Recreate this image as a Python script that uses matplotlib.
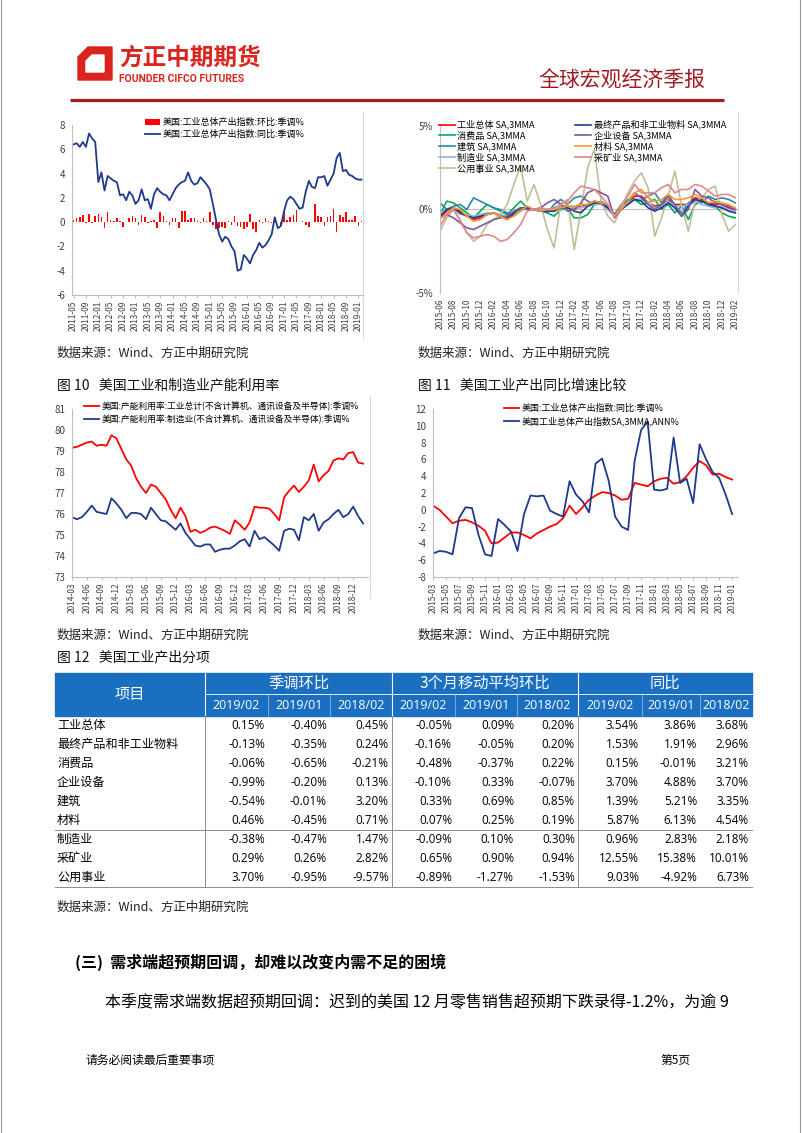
import numpy as np
import pandas as pd
import matplotlib.pyplot as plt
from matplotlib.patches import Rectangle, Polygon

plt.rcParams['font.family'] = ['Noto Sans CJK SC', 'DejaVu Sans']
plt.rcParams['axes.unicode_minus'] = False

# ---- chart 1: US industrial production, 2011-05 .. 2019-02
ip_mom = [0.2, 0.3, 0.4, 0.6, -0.1, 0.7, -0.1, 0.5, 0.7, 0.4, -0.5, 0.8, 0.2, 0.1, 0.3, 0.1,
          -0.4, 0.0, 0.3, 0.5, 0.3, -0.2, 0.6, 0.4, -0.1, 0.1, 0.2, -0.5, 0.8, 0.5, 0.1, -0.2,
          0.3, 0.3, -0.5, 0.9, 0.9, 0.2, 0.3, 0.3, 0.1, -0.1, 0.3, 0.1, 0.8, -0.2, -0.6, -0.5,
          -0.4, -0.5, 0.1, -0.2, 0.5, -0.3, -0.4, -0.6, -0.4, 0.7, -0.6, -0.8, 0.2, -0.1, 0.3, 0.1,
          -0.1, 0.1, 0.0, -0.3, 0.9, 0.2, 0.4, 0.6, 1.0, 0.0, 0.1, -0.2, -0.4, 0.0, 1.5, 0.5,
          0.4, -0.3, 0.4, 0.5, 1.1, -0.8, 0.6, 0.4, 0.8, 0.2, 0.2, 0.5, -0.3, 0.1]
ip_yoy = [6.4, 6.5, 6.2, 6.6, 6.2, 7.3, 6.9, 6.6, 3.3, 4.1, 2.6, 3.8, 3.6, 3.4, 3.3, 2.2,
          2.3, 1.8, 2.5, 2.2, 1.5, 1.8, 2.7, 1.8, 1.9, 1.1, 2.3, 2.8, 2.5, 2.3, 2.2, 1.8,
          2.3, 2.8, 3.1, 3.3, 3.4, 4.1, 3.4, 3.1, 3.2, 3.7, 3.4, 3.1, 2.7, 1.5, 0.2, -1.0,
          -1.6, -1.2, -1.4, -2.0, -2.4, -4.0, -3.9, -2.7, -3.0, -3.4, -2.7, -2.3, -1.7, -2.1, -1.9, -1.5,
          -1.0, 0.4, -0.5, -0.3, 0.9, 1.8, 2.1, 1.9, 1.5, 1.1, 1.2, 2.5, 3.4, 2.9, 2.8, 3.7,
          3.7, 3.8, 3.0, 3.5, 4.0, 5.3, 5.7, 4.2, 4.3, 3.9, 3.8, 3.6, 3.5, 3.5]
months1 = pd.period_range('2011-05', periods=len(ip_yoy), freq='M').strftime('%Y-%m').tolist()

# ---- chart 2: sub-sector 3MMA, 2015-06 .. 2019-02 (%)
sec_names = ['工业总体 SA,3MMA', '消费品 SA,3MMA', '建筑 SA,3MMA', '制造业 SA,3MMA', '公用事业 SA,3MMA',
             '最终产品和非工业物料 SA,3MMA', '企业设备 SA,3MMA', '材料 SA,3MMA', '采矿业 SA,3MMA']
sec_total = [-0.5, -0.1, 0.1, -0.1, -0.4, -0.6, -0.5, -0.3, -0.2, -0.4, -0.6, -0.3, 0.0, 0.1, 0.0, -0.1,
             0.0, -0.1, 0.2, 0.2, 0.0, 0.2, 0.3, 0.5, 0.4, 0.2, -0.3, 0.0, 0.4, 0.8, 0.8, 0.4,
             0.2, 0.3, 0.6, 0.3, 0.3, 0.3, 0.7, 0.6, 0.4, 0.3, 0.3, 0.1, 0.0]
sec_consumer = [-0.3, 0.5, 0.4, 0.1, -0.2, -0.5, -0.1, 0.3, 0.1, -0.1, -0.3, 0.1, 0.5, 0.1, 0.0, -0.1,
                -0.2, -0.4, 0.0, 0.1, -0.5, -0.5, -0.3, 0.3, 0.4, 0.0, -0.3, 0.2, 0.6, 0.6, 0.3, 0.4,
                0.6, 0.0, 0.3, -0.2, 0.2, -0.6, 0.3, 0.5, 0.3, 0.2, -0.2, -0.4, -0.5]
sec_construct = [0.4, 0.0, 0.2, 0.3, 0.0, 0.7, 0.5, 0.3, 0.1, 0.0, -0.2, -0.3, 0.0, 0.1, 0.0, 0.0,
                 -0.2, 0.3, 0.6, 0.3, 0.7, 0.8, 0.5, 0.3, 0.5, 0.2, -0.3, 0.3, 0.5, 0.6, 0.6, 0.8,
                 1.0, 0.4, 0.9, 0.2, -0.2, 0.4, 0.5, 0.4, 0.8, 0.6, 0.7, 0.6, 0.4]
sec_manuf = [-0.2, 0.0, 0.0, -0.3, -0.3, -0.4, -0.3, -0.2, -0.2, -0.3, -0.4, -0.2, -0.1, 0.1, 0.0, 0.0,
             -0.1, 0.0, 0.2, 0.1, 0.1, 0.1, 0.2, 0.3, 0.3, 0.0, -0.4, 0.0, 0.4, 0.6, 0.6, 0.4,
             0.1, 0.2, 0.5, 0.2, 0.2, 0.3, 0.5, 0.3, 0.2, 0.1, 0.2, 0.0, -0.1]
sec_util = [-1.3, -0.5, 0.0, -0.6, -1.4, -1.9, -1.6, -0.9, -0.6, -0.3, 0.3, 1.5, 2.6, 0.5, 1.5, 0.3,
            -1.2, -2.3, 0.4, 0.6, -2.4, 0.0, 2.5, 3.6, 0.5, -0.4, -0.8, 0.1, 1.0, 1.7, 2.2, 1.3,
            -1.6, -0.5, 0.8, 2.3, 0.2, -1.3, 0.5, 0.7, 1.2, 1.4, -0.3, -1.3, -0.9]
sec_final = [-0.4, 0.0, 0.1, -0.2, -0.4, -0.5, -0.4, -0.3, -0.2, -0.4, -0.5, -0.2, 0.1, 0.1, 0.0, -0.1,
             -0.1, -0.1, 0.1, 0.1, -0.1, -0.2, 0.2, 0.4, 0.4, 0.1, -0.3, 0.0, 0.3, 0.6, 0.5, 0.1,
             -0.1, 0.1, 0.4, 0.1, -0.4, 0.2, 0.6, 0.5, 0.3, 0.2, 0.1, -0.1, -0.2]
sec_equip = [-0.5, -0.3, -0.5, -0.8, -1.1, -1.2, -1.0, -0.8, -0.6, -0.5, -0.4, -0.1, 0.1, 0.0, 0.0, 0.1,
             0.4, 0.6, 0.3, -0.1, 0.0, 0.4, 1.0, 1.2, 1.0, 0.8, -0.5, 0.0, 0.5, 1.0, 0.7, 0.3,
             0.0, 0.3, 0.8, 0.3, -0.4, 0.0, 1.2, 0.8, 0.7, 0.4, 0.3, 0.2, 0.0]
sec_material = [-0.6, -0.2, 0.1, 0.0, -0.4, -0.7, -0.6, -0.3, -0.2, -0.4, -0.6, -0.4, -0.1, 0.2, 0.0, -0.1,
                0.0, 0.0, 0.1, 0.2, 0.2, 0.3, 0.3, 0.5, 0.4, 0.3, -0.4, 0.0, 0.5, 1.0, 1.2, 0.7,
                0.5, 0.6, 0.9, 0.6, 0.6, 0.7, 0.9, 0.7, 0.4, 0.5, 0.4, 0.3, 0.1]
sec_mining = [-1.0, -0.3, 0.0, -0.7, -1.4, -1.7, -1.6, -1.5, -1.6, -1.9, -1.8, -1.4, -0.9, -0.1, 0.0, 0.1,
              0.0, 0.1, 0.3, 0.5, 1.0, 1.4, 1.3, 1.2, 0.8, 0.3, -0.4, 0.3, 0.8, 1.5, 1.0, 1.0,
              1.0, 1.3, 1.5, 1.0, 1.2, 1.2, 1.5, 1.4, 1.1, 0.8, 0.9, 0.9, 0.7]
sec_values = [sec_total, sec_consumer, sec_construct, sec_manuf, sec_util,
              sec_final, sec_equip, sec_material, sec_mining]
sec_colors = ['#FF0000', '#00B050', '#2E86A8', '#8EB4E3', '#C4BD97',
              '#1F3A93', '#7E5A9B', '#F59A2E', '#E0888A']
months2 = pd.period_range('2015-06', periods=len(sec_total), freq='M').strftime('%Y-%m').tolist()

# ---- chart 3: capacity utilization, 2014-03 .. 2019-02
cu_total = [79.15, 79.2, 79.3, 79.4, 79.45, 79.25, 79.3, 79.25, 79.75, 79.6, 79.1, 78.6, 78.3, 77.7, 77.3,
            77.0, 77.4, 77.3, 77.0, 76.7, 76.2, 75.8, 76.3, 75.9, 75.15, 75.25, 75.1, 75.2, 75.35, 75.4,
            75.3, 75.2, 75.05, 75.7, 75.5, 75.25, 75.6, 76.35, 76.3, 76.3, 76.25, 76.0, 75.7, 76.8, 77.1,
            77.35, 77.05, 77.3, 77.6, 78.35, 77.55, 77.85, 78.05, 78.55, 78.65, 78.6, 78.9, 78.95, 78.45, 78.4]
cu_manuf = [75.85, 75.75, 75.85, 76.1, 76.4, 76.1, 76.05, 76.0, 76.75, 76.5, 76.2, 75.8, 76.05, 76.05, 76.0,
            75.75, 76.3, 76.0, 75.7, 75.65, 75.45, 75.25, 75.55, 75.1, 74.8, 74.5, 74.45, 74.55, 74.55, 74.2,
            74.3, 74.35, 74.35, 74.5, 74.7, 74.8, 74.45, 75.2, 74.8, 74.9, 74.7, 74.5, 74.25, 75.2, 75.3,
            75.25, 74.75, 75.85, 75.7, 76.0, 75.2, 75.6, 75.75, 76.0, 76.2, 75.85, 76.0, 76.35, 75.9, 75.55]
months3 = pd.period_range('2014-03', periods=len(cu_total), freq='M').strftime('%Y-%m').tolist()

# ---- chart 4: YoY vs 3MMA annualized, 2015-03 .. 2019-01
cmp_yoy = [0.5, 0.0, -0.8, -1.6, -1.3, -1.2, -1.5, -1.9, -2.5, -4.0, -3.9, -3.3, -2.7, -2.7, -3.0, -3.4,
           -2.8, -2.4, -2.0, -1.7, -1.0, 0.5, -0.5, 0.3, 1.2, 1.7, 2.1, 2.0, 1.7, 1.2, 1.3, 3.2,
           3.0, 2.8, 3.4, 3.7, 3.8, 3.1, 3.3, 4.0, 5.0, 5.8, 5.3, 4.2, 4.3, 3.9, 3.6]
cmp_ann = [-5.2, -4.9, -5.0, -5.3, -1.0, 0.3, 0.2, -3.0, -5.3, -5.5, -1.1, -1.8, -2.6, -4.9, -0.5, 1.7,
           1.6, 1.7, -0.1, -0.5, -0.8, 3.4, 1.8, 1.0, -0.3, 5.5, 6.1, 3.5, -0.8, -2.0, -2.4, 5.8,
           9.5, 10.5, 2.4, 2.3, 2.5, 8.6, 3.2, 3.7, 0.8, 7.8, 6.0, 4.5, 3.8, 1.8, -0.5]
months4 = pd.period_range('2015-03', periods=len(cmp_yoy), freq='M').strftime('%Y-%m').tolist()

# ---- table 12
tbl_items = ['工业总体', '最终产品和非工业物料', '消费品', '企业设备', '建筑', '材料', '制造业', '采矿业', '公用事业']
tbl_groups = ['季调环比', '3个月移动平均环比', '同比']
tbl_dates = ['2019/02', '2019/01', '2018/02']
sa_1902 = [0.15, -0.13, -0.06, -0.99, -0.54, 0.46, -0.38, 0.29, 3.70]
sa_1901 = [-0.40, -0.35, -0.65, -0.20, -0.01, -0.45, -0.47, 0.26, -0.95]
sa_1802 = [0.45, 0.24, -0.21, 0.13, 3.20, 0.71, 1.47, 2.82, -9.57]
mma_1902 = [-0.05, -0.16, -0.48, -0.10, 0.33, 0.07, -0.09, 0.65, -0.89]
mma_1901 = [0.09, -0.05, -0.37, 0.33, 0.69, 0.25, 0.10, 0.90, -1.27]
mma_1802 = [0.20, 0.20, 0.22, -0.07, 0.85, 0.19, 0.30, 0.94, -1.53]
yoy_1902 = [3.54, 1.53, 0.15, 3.70, 1.39, 5.87, 0.96, 12.55, 9.03]
yoy_1901 = [3.86, 1.91, -0.01, 4.88, 5.21, 6.13, 2.83, 15.38, -4.92]
yoy_1802 = [3.68, 2.96, 3.21, 3.70, 3.35, 4.54, 2.18, 10.01, 6.73]
tbl_cols = [sa_1902, sa_1901, sa_1802, mma_1902, mma_1901, mma_1802, yoy_1902, yoy_1901, yoy_1802]

W, H = 802, 1133
fig = plt.figure(figsize=(W / 100, H / 100), dpi=100)


def box(x0, y0, x1, y1):
    return [x0 / W, 1 - y1 / H, (x1 - x0) / W, (y1 - y0) / H]


def fpt(x, y):
    return (x / W, 1 - y / H)


page = fig.add_axes([0, 0, 1, 1])
page.set_xlim(0, W)
page.set_ylim(H, 0)
page.axis('off')

# header
page.add_patch(Polygon([[78, 57], [88, 47], [112, 47], [112, 80], [78, 80]], color='#D9251D'))
page.add_patch(Polygon([[86, 61], [92, 55], [104, 55], [104, 72], [86, 72]], color='white'))
page.text(119, 58, '方正中期期货', fontsize=17, fontweight='bold', color='#D9251D', va='center')
page.text(119, 79, 'FOUNDER CIFCO FUTURES', fontsize=7.5, fontweight='bold', color='#D9251D',
          va='center', family=['Roboto', 'DejaVu Sans'])
page.text(705, 81, '全球宏观经济季报', fontsize=15, color='#9E1B20', va='center', ha='right')
page.plot([70, 724], [99.5, 99.5], color='#A51E22', lw=2.3, solid_capstyle='butt')
page.plot([1, 1], [0, H], color='#999999', lw=0.8)
page.plot([800, 800], [0, H], color='#999999', lw=0.8)

tick_col = '#404040'
spine_col = '#BFBFBF'


def style(ax):
    ax.set_facecolor('none')
    for s in ['top', 'right']:
        ax.spines[s].set_visible(False)
    for s in ['left', 'bottom']:
        ax.spines[s].set_color(spine_col)
        ax.spines[s].set_linewidth(0.8)
    ax.tick_params(axis='y', labelsize=7, labelcolor=tick_col, length=0, pad=5)
    ax.tick_params(axis='x', labelsize=6, labelcolor=tick_col, color=spine_col, length=2, pad=2,
                   labelrotation=90)


# chart 1
ax1 = fig.add_axes(box(72, 125, 363, 295))
x1 = np.arange(len(ip_yoy))
b1 = ax1.bar(x1, ip_mom, width=0.5, color='#FF0000', label='美国:工业总体产出指数:环比:季调%')
l1, = ax1.plot(x1, ip_yoy, color='#1F3A8A', lw=1.3, label='美国:工业总体产出指数:同比:季调%')
ax1.set_xlim(-0.5, len(x1) - 0.5)
ax1.set_ylim(-6, 8)
ax1.set_yticks(range(-6, 9, 2))
ax1.set_xticks(x1[::4])
ax1.set_xticklabels(months1[::4])
style(ax1)
ax1.legend(handles=[b1, l1], loc='upper left', bbox_to_anchor=fpt(145, 118),
           bbox_transform=fig.transFigure, frameon=False, fontsize=6.5, handlelength=1.7,
           handletextpad=0.3, labelspacing=0.3, borderpad=0, borderaxespad=0)
page.plot([363, 363], [112, 338], color='#D9D9D9', lw=0.8)

# chart 2
ax2 = fig.add_axes(box(440, 126, 738, 293))
x2 = np.arange(len(sec_total))
ax2.axhline(0, color=spine_col, lw=0.8, zorder=0)
for name, vals, col in zip(sec_names, sec_values, sec_colors):
    ax2.plot(x2, vals, color=col, lw=1.2, label=name)
ax2.set_xlim(0, len(x2) - 0.6)
ax2.set_ylim(-5, 5)
ax2.set_yticks([-5, 0, 5])
ax2.set_yticklabels(['-5%', '0%', '5%'])
ax2.set_xticks(x2[::2])
ax2.set_xticklabels(months2[::2])
style(ax2)
ax2.spines['bottom'].set_visible(False)
ax2.tick_params(axis='x', length=0, pad=4)
ax2.legend(loc='upper left', bbox_to_anchor=fpt(439, 120), bbox_transform=fig.transFigure,
           ncol=2, frameon=False, fontsize=6.6, handlelength=1.7, handletextpad=0.3,
           labelspacing=0.12, columnspacing=4.4, borderpad=0, borderaxespad=0)
page.plot([738, 738], [112, 293], color='#D9D9D9', lw=0.8)

# sources and titles
src = '数据来源：Wind、方正中期研究院'
for sx, sy in [(57, 353), (418, 353), (57, 635), (418, 635), (57, 907)]:
    page.text(sx, sy, src, fontsize=9, color='#222222', va='center', style='italic')
page.text(57, 385, '图 10   美国工业和制造业产能利用率', fontsize=10, color='#111111', va='center')
page.text(418, 385, '图 11   美国工业产出同比增速比较', fontsize=10, color='#111111', va='center')
page.text(57, 657, '图 12   美国工业产出分项', fontsize=10, color='#111111', va='center')

# chart 3
ax3 = fig.add_axes(box(72, 409, 368, 577))
x3 = np.arange(len(cu_total))
ax3.plot(x3, cu_total, color='#FF0000', lw=1.3,
         label='美国:产能利用率:工业总计(不含计算机、通讯设备及半导体):季调%')
ax3.plot(x3, cu_manuf, color='#1F3A8A', lw=1.3,
         label='美国:产能利用率:制造业(不含计算机、通讯设备及半导体):季调%')
ax3.set_xlim(0, 60)
ax3.set_ylim(73, 81)
ax3.set_yticks(range(73, 82))
ax3.set_xticks(x3[::3])
ax3.set_xticklabels(months3[::3])
style(ax3)
ax3.legend(loc='upper left', bbox_to_anchor=fpt(84, 402), bbox_transform=fig.transFigure,
           frameon=False, fontsize=6.3, handlelength=1.7, handletextpad=0.3, labelspacing=0.35,
           borderpad=0, borderaxespad=0)
page.plot([370, 370], [396, 598], color='#D9D9D9', lw=0.8)

# chart 4
ax4 = fig.add_axes(box(433, 409, 738, 577))
x4 = np.arange(len(cmp_yoy))
ax4.plot(x4, cmp_yoy, color='#FF0000', lw=1.3, label='美国:工业总体产出指数:同比:季调%')
ax4.plot(x4, cmp_ann, color='#1F3A8A', lw=1.3, label='美国工业总体产出指数SA,3MMA,ANN%')
ax4.set_xlim(0, 46.9)
ax4.set_ylim(-8, 12)
ax4.set_yticks(range(-8, 13, 2))
ax4.set_xticks(x4[::2])
ax4.set_xticklabels(months4[::2])
style(ax4)
ax4.legend(loc='upper left', bbox_to_anchor=fpt(504, 404), bbox_transform=fig.transFigure,
           frameon=False, fontsize=6.5, handlelength=1.7, handletextpad=0.3, labelspacing=0.35,
           borderpad=0, borderaxespad=0)

# table
edges = [55, 205, 268, 330, 392, 455, 517, 578, 642, 700, 752]
hdr_top, hdr_mid, hdr_bot = 673, 694, 716
row_h = 19
blue = '#1B6FC0'
page.add_patch(Rectangle((edges[0], hdr_top), edges[-1] - edges[0], hdr_bot - hdr_top, color=blue))
for gx in [205, 392, 578]:
    page.plot([gx, gx], [hdr_top, hdr_bot], color='white', lw=0.8)
for sx in [268, 330, 455, 517, 642, 700]:
    page.plot([sx, sx], [hdr_mid, hdr_bot], color='#9DC3E6', lw=0.5)
page.plot([205, 752], [hdr_mid, hdr_mid], color='white', lw=0.6)
page.text(130, (hdr_top + hdr_bot) / 2, '项目', fontsize=11, color='white', ha='center', va='center')
for g, name in enumerate(tbl_groups):
    page.text((edges[1 + 3 * g] + edges[4 + 3 * g]) / 2, (hdr_top + hdr_mid) / 2, name,
              fontsize=11, color='white', ha='center', va='center')
    for j, d in enumerate(tbl_dates):
        c = 1 + 3 * g + j
        page.text((edges[c] + edges[c + 1]) / 2, (hdr_mid + hdr_bot) / 2 + 0.5, d, fontsize=9,
                  color='white', ha='center', va='center', family=['Open Sans', 'DejaVu Sans'])
for i, item in enumerate(tbl_items):
    yc = hdr_bot + row_h * (i + 0.5)
    page.text(57, yc, item, fontsize=8.7, color='black', va='center')
    for c, col in enumerate(tbl_cols):
        page.text(edges[c + 2] - 3, yc, f'{col[i]:.2f}%', fontsize=8.5, color='black',
                  ha='right', va='center', family=['Open Sans', 'DejaVu Sans'])
tbl_bot = hdr_bot + row_h * len(tbl_items)
for gx in [205, 392, 578]:
    page.plot([gx, gx], [hdr_bot, tbl_bot], color='#8C8C8C', lw=0.7)
page.plot([55, 752], [hdr_bot + row_h * 6, hdr_bot + row_h * 6], color='#8C8C8C', lw=0.7)
page.plot([55, 752], [tbl_bot, tbl_bot], color='#8C8C8C', lw=0.7)

# text body
page.text(75, 962, '(三)  需求端超预期回调，却难以改变内需不足的困境', fontsize=11.5,
          fontweight='bold', color='black', va='center')
page.text(105, 1003, '本季度需求端数据超预期回调：迟到的美国 12 月零售销售超预期下跌录得-1.2%，为逾 9',
          fontsize=11.5, color='black', va='center')
page.text(85, 1060, '请务必阅读最后重要事项', fontsize=8.5, color='black', va='center')
page.text(660, 1060, '第5页', fontsize=8.5, color='black', va='center')

fig.savefig('out.png', dpi=100)
